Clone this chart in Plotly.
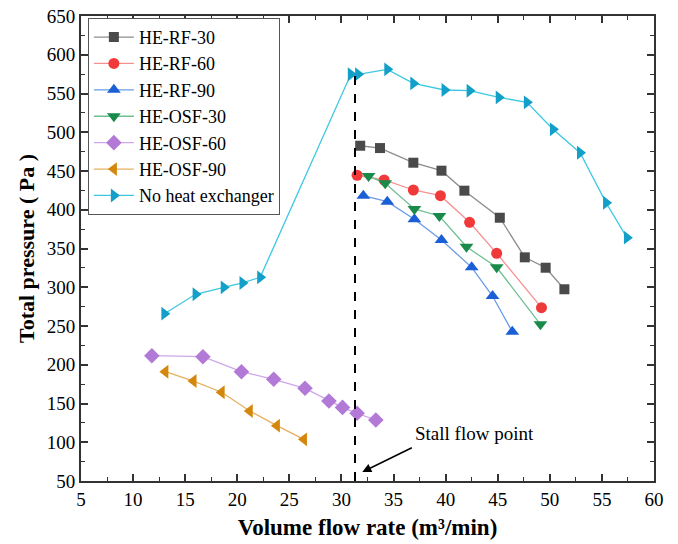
import plotly.graph_objects as go

# ---- data ----
rf30_x = [31.8, 33.7, 36.9, 39.6, 41.8, 45.2, 47.6, 49.6, 51.4]
rf30_y = [482.6, 479.6, 460.7, 450.4, 424.6, 389.7, 338.6, 325.2, 297.4]

rf60_x = [31.5, 34.1, 36.9, 39.5, 42.3, 44.9, 49.2]
rf60_y = [444.5, 438.4, 425.5, 418.1, 383.8, 343.8, 273.6]

rf90_x = [32.1, 34.4, 37.0, 39.6, 42.5, 44.5, 46.4]
rf90_y = [418.1, 410.4, 387.7, 361.0, 325.7, 288.7, 242.6]

osf30_x = [32.6, 34.2, 37.0, 39.4, 42.0, 44.9, 49.1]
osf30_y = [443.5, 434.1, 401.0, 392.0, 352.3, 325.7, 252.2]

osf60_x = [11.8, 16.7, 20.4, 23.5, 26.5, 28.8, 30.1, 31.5, 33.3]
osf60_y = [211.7, 210.4, 191.0, 181.2, 169.6, 153.2, 145.0, 137.4, 128.7]

osf90_x = [13.1, 15.8, 18.5, 21.2, 23.8, 26.4]
osf90_y = [191.0, 179.0, 164.5, 140.3, 121.4, 103.8]

noh_x = [13.0, 16.0, 18.7, 20.5, 22.2, 30.9, 31.6, 34.4, 36.9, 39.9, 42.3, 45.1, 47.8, 50.3, 52.9, 55.4, 57.4]
noh_y = [265.9, 290.9, 299.9, 305.5, 312.8, 574.8, 574.8, 581.2, 563.0, 554.5, 553.6, 545.0, 538.6, 503.8, 473.6, 409.0, 364.0]

stall_x = 31.3
stall_y = [50, 575]
stall_label = "Stall flow point"
arrow_head = (32.0, 61.6)
arrow_tail = (36.9, 93.9)

x_ticks = [5, 10, 15, 20, 25, 30, 35, 40, 45, 50, 55, 60]
y_ticks = [50, 100, 150, 200, 250, 300, 350, 400, 450, 500, 550, 600, 650]

series = [
    ("HE-RF-30", rf30_x, rf30_y, "square", "#4a4a4a", "#8c8c8c", 10),
    ("HE-RF-60", rf60_x, rf60_y, "circle", "#f03a3a", "#f79090", 11),
    ("HE-RF-90", rf90_x, rf90_y, "triangle-up", "#1a5fd6", "#6b9be8", 12),
    ("HE-OSF-30", osf30_x, osf30_y, "triangle-down", "#1a8a4a", "#6fbf92", 12),
    ("HE-OSF-60", osf60_x, osf60_y, "diamond", "#b27ad6", "#cfa6ea", 12),
    ("HE-OSF-90", osf90_x, osf90_y, "triangle-left", "#d4870a", "#e6b060", 12),
    ("No heat exchanger", noh_x, noh_y, "triangle-right", "#139fc7", "#3cc8e0", 12),
]

fig = go.Figure()
for name, xs, ys, sym, mc, lc, sz in series:
    fig.add_trace(go.Scatter(
        x=xs, y=ys, name=name, mode="lines+markers",
        line=dict(color=lc, width=1.3),
        marker=dict(symbol=sym, size=sz, color=mc, line=dict(width=0)),
    ))

fig.add_trace(go.Scatter(
    x=[stall_x, stall_x], y=stall_y, mode="lines", showlegend=False,
    line=dict(color="black", width=2, dash="dash"), hoverinfo="skip",
))

fig.add_annotation(
    x=arrow_head[0], y=arrow_head[1], ax=arrow_tail[0], ay=arrow_tail[1],
    xref="x", yref="y", axref="x", ayref="y",
    showarrow=True, arrowhead=2, arrowsize=1.2, arrowwidth=1.5, arrowcolor="black",
    text="",
)
fig.add_annotation(
    x=arrow_tail[0], y=arrow_tail[1], xref="x", yref="y",
    text=stall_label, showarrow=False, xanchor="left", yanchor="bottom",
    xshift=0, yshift=1,
    font=dict(family="Liberation Serif", size=19, color="black"),
)

font_serif = "Liberation Serif"
axis_common = dict(
    showline=True, linecolor="#333", linewidth=2, mirror="allticks",
    ticks="inside", ticklen=7, tickwidth=1.5, tickcolor="#333",
    showgrid=False, zeroline=False,
    tickfont=dict(family=font_serif, size=19, color="black"),
)

fig.update_xaxes(
    range=[5, 60], tickvals=x_ticks,
    minor=dict(ticks="inside", ticklen=4, tickwidth=1.2, tickcolor="#333", dtick=2.5, tick0=5),
    title=dict(text="<b>Volume flow rate (m³/min)</b>", font=dict(family=font_serif, size=23, color="black"), standoff=10),
    **axis_common,
)
fig.update_yaxes(
    range=[50, 650], tickvals=y_ticks,
    minor=dict(ticks="inside", ticklen=4, tickwidth=1.2, tickcolor="#333", dtick=25, tick0=50),
    title=dict(text="<b>Total pressure ( Pa )</b>", font=dict(family=font_serif, size=22, color="black"), standoff=6),
    **axis_common,
)

fig.update_layout(
    width=678, height=544,
    margin=dict(l=81, r=24, t=16, b=63, autoexpand=False),
    plot_bgcolor="white", paper_bgcolor="white",
    legend=dict(
        x=0.012, y=0.996, xanchor="left", yanchor="top",
        bordercolor="#555", borderwidth=1, bgcolor="white",
        font=dict(family=font_serif, size=18, color="black"),
        tracegroupgap=0, itemwidth=40,
    ),
    showlegend=True,
)

fig.write_html("out.html")
